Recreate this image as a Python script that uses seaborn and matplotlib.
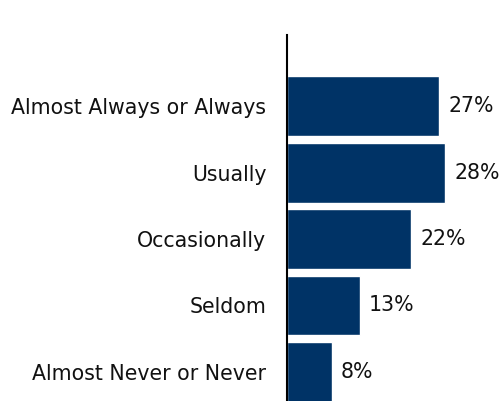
import pandas as pd
import matplotlib.pyplot as plt
import seaborn as sns

# datos
categories = ['Almost Always or Always', 'Usually', 'Occasionally', 'Seldom', 'Almost Never or Never']
values = [27, 28, 22, 13, 8]
value_labels = ['27%', '28%', '22%', '13%', '8%']

df = pd.DataFrame({'category': categories, 'pct': values})

sns.set_style('white')
plt.rcParams['font.family'] = ['DejaVu Sans']

fig = plt.figure(figsize=(5.01, 4.01), dpi=100)
ax = fig.add_axes([286.5 / 501, 0, 1 - 286.5 / 501, 1 - 35 / 401])

sns.barplot(data=df, x='pct', y='category', color='#003366', saturation=1,
            width=0.9, orient='h', ax=ax)

# etiquetas de valor
for i, (v, lab) in enumerate(zip(values, value_labels)):
    ax.text(v + 1.6, i, lab, va='center', ha='left', fontsize=14.8, color='#111111')

ax.set_xlim(0, 37.9)
ax.set_ylim(4.44, -1.075)
ax.set_xlabel('')
ax.set_ylabel('')
ax.set_xticks([])
ax.tick_params(axis='y', length=0, pad=14.5, labelsize=14.8, labelcolor='#111111')

for s in ['top', 'right', 'bottom']:
    ax.spines[s].set_visible(False)
ax.spines['left'].set_color('black')
ax.spines['left'].set_linewidth(1.5)

fig.savefig('out.png', dpi=100, facecolor='white')
